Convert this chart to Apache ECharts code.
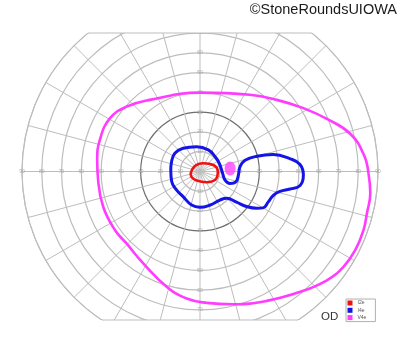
<!DOCTYPE html>
<html><head><meta charset="utf-8">
<script src="https://cdn.jsdelivr.net/npm/echarts@6/dist/echarts.min.js"></script>
<style>html,body{margin:0;padding:0;background:#fff}#c{width:400px;height:352px}</style>
</head><body><div id="c"></div>
<script>
// ---- data: [eccentricity (deg), meridian angle (deg, 0 = right, counter-clockwise)]
const isopterNames = ['I2e', 'I4e', 'V4e'];
const I2E = [[4.8,191],[5.1,215],[4.9,250],[6.4,302],[8.9,334],[9.0,359],[7.5,26],[4.5,68],[3.8,132],[4.8,191]];
const I4E = [[14.8,177],[15.2,200],[15.1,218],[15.3,236],[17.5,256],[18.1,270],[17.7,287],[17.6,305],[19.1,315],
  [24.1,320],[29.4,323],[34.2,327],[36.8,330],[37.8,336],[39.0,342],[41.7,346],[46.4,349],[51.1,352],[52.3,358],
  [50.7,4],[46.1,8],[38.0,13],[29.8,15],[23.5,14],[20.4,7],[19.5,355],[18.9,344],[16.3,338],[13.4,341],[11.5,355],
  [10.6,23],[10.7,45],[11.7,69],[12.7,98],[14.5,126],[15.7,144],[15.2,161],[14.8,177]];
const V4E = [[85.2,-0.6],[83.2,6],[78.4,14],[70.0,22],[61.3,31.5],[53.1,43],[46.3,57],[39.9,90],[44.2,125],[49.5,138.5],
  [52.9,149.5],[53.1,162.5],[52.3,173.6],[51.7,185],[52.1,200],[52.2,214.5],[52.0,224.4],[54.6,238.3],[60.7,254],
  [64.6,264],[66.5,273],[69.2,284],[73.6,297.3],[79.2,309.8],[84.5,319.4],[87.1,326.4],[88.0,333.1],[87.8,340.3],
  [87.0,345.9],[86.8,352.7],[85.2,359.4]];
const V4E_SPOT = [[15.3, 5.7]];
const horizontalTicks = [10,20,30,40,50,60,70,80,90];
const verticalTicks = [10,20,30,40,50,60,70];
const eyeLabel = 'OD';
const credit = '©StoneRoundsUIOWA';

// ---- layout
const CX = 200, CY = 171.5, R = 178, TOP = 33, BOTTOM = 320;
const GRID = '#bdbdbd';

const tickLabels = [];
horizontalTicks.forEach(v => { tickLabels.push([v, 0, v]); tickLabels.push([v, 180, v]); });
verticalTicks.forEach(v => { tickLabels.push([v, 90, v]); tickLabels.push([v, 270, v]); });

const ringColors = [GRID, GRID, GRID, '#6e6e6e', GRID, GRID, GRID, GRID, GRID, GRID];

const chordTop = Math.sqrt(R * R - (CY - TOP) * (CY - TOP));
const chordBot = Math.sqrt(R * R - (BOTTOM - CY) * (BOTTOM - CY));

const chart = echarts.init(document.getElementById('c'), null, {renderer: 'canvas'});
const lineSeries = (name, data, color, width) => ({
  name, type: 'line', coordinateSystem: 'polar', data, smooth: 0.45, showSymbol: false,
  symbol: 'rect', itemStyle: {color}, lineStyle: {color, width}, silent: true, z: 5
});
chart.setOption({
  animation: false,
  backgroundColor: '#fff',
  title: {text: credit, right: 3, top: 2, padding: 0, z: 200,
    textStyle: {fontFamily: 'Liberation Sans', fontSize: 14.5, fontWeight: 'normal', color: '#1a1a1a'}},
  legend: {
    data: isopterNames, orient: 'vertical', left: 346, top: 299, z: 200,
    icon: 'rect', itemWidth: 5, itemHeight: 5, itemGap: 2.3,
    padding: [1.5, 9, 1.5, 1.5], borderColor: '#b0b0b0', borderWidth: 1,
    textStyle: {fontSize: 5, color: '#555', fontFamily: 'Liberation Sans'}
  },
  polar: {center: [CX, CY], radius: [0, R]},
  angleAxis: {
    type: 'value', min: 0, max: 360, interval: 15, startAngle: 0, clockwise: false,
    axisLine: {show: true, lineStyle: {color: GRID, width: 1}},
    axisTick: {show: false}, axisLabel: {show: false},
    splitLine: {show: true, lineStyle: {color: GRID, width: 1}}
  },
  radiusAxis: {
    type: 'value', min: 0, max: 90, interval: 10,
    axisLine: {show: false}, axisTick: {show: false}, axisLabel: {show: false},
    splitLine: {show: true, lineStyle: {color: ringColors, width: 1.2}}
  },
  series: [
    {name: 'ticks', type: 'scatter', coordinateSystem: 'polar', data: tickLabels, symbolSize: 1,
      itemStyle: {color: 'rgba(0,0,0,0)'}, silent: true, z: 3,
      label: {show: true, position: 'inside', formatter: p => String(p.value[2]),
        fontSize: 5, color: '#9a9a9a', fontFamily: 'Liberation Sans'}},
    lineSeries('I2e', I2E, '#ee1111', 2.6),
    lineSeries('I4e', I4E, '#1414e6', 3),
    lineSeries('V4e', V4E, '#ff3cff', 2.6),
    {name: 'V4e spot', type: 'scatter', coordinateSystem: 'polar', data: V4E_SPOT,
      symbol: 'circle', symbolSize: [11, 14], itemStyle: {color: '#ff44ff'}, silent: true, z: 6}
  ],
  graphic: [
    {type: 'rect', shape: {x: 0, y: 0, width: 400, height: TOP}, style: {fill: '#fff'}, z: 100, silent: true},
    {type: 'rect', shape: {x: 0, y: BOTTOM, width: 400, height: 352 - BOTTOM}, style: {fill: '#fff'}, z: 100, silent: true},
    {type: 'line', shape: {x1: CX - chordTop, y1: TOP, x2: CX + chordTop, y2: TOP}, style: {stroke: GRID, lineWidth: 1.2}, z: 101, silent: true},
    {type: 'line', shape: {x1: CX - chordBot, y1: BOTTOM, x2: CX + chordBot, y2: BOTTOM}, style: {stroke: GRID, lineWidth: 1.2}, z: 101, silent: true},
    {type: 'text', x: 321, y: 311, z: 200, silent: true,
      style: {text: eyeLabel, fontSize: 11.5, fill: '#333', fontFamily: 'Liberation Sans'}}
  ]
});
</script>
</body></html>
